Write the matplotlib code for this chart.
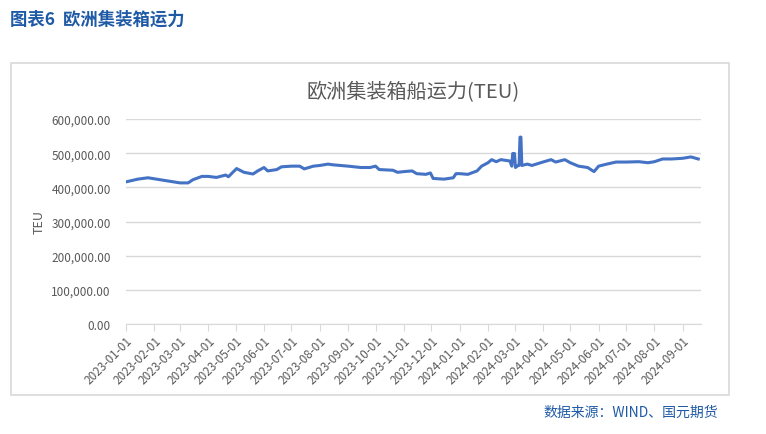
import matplotlib
matplotlib.use("Agg")
import matplotlib.pyplot as plt
import matplotlib.dates as mdates
from matplotlib.patches import Rectangle
from matplotlib.ticker import FuncFormatter
import pandas as pd

plt.rcParams['font.family'] = ['Noto Sans CJK SC', 'DejaVu Sans']

# values (TEU)
dates = [
    "2023-01-01", "2023-01-14", "2023-01-25", "2023-02-01", "2023-02-15",
    "2023-03-01", "2023-03-10", "2023-03-15", "2023-03-25", "2023-04-01",
    "2023-04-10", "2023-04-20", "2023-04-23", "2023-05-02", "2023-05-10",
    "2023-05-20", "2023-05-25", "2023-06-01", "2023-06-05", "2023-06-15",
    "2023-06-20", "2023-07-01", "2023-07-10", "2023-07-15", "2023-07-25",
    "2023-08-01", "2023-08-10", "2023-08-15", "2023-09-01", "2023-09-15",
    "2023-09-25", "2023-10-01", "2023-10-05", "2023-10-20", "2023-10-25",
    "2023-11-01", "2023-11-10", "2023-11-15", "2023-11-25", "2023-11-30",
    "2023-12-03", "2023-12-15", "2023-12-25", "2023-12-28", "2024-01-01",
    "2024-01-10", "2024-01-20", "2024-01-25", "2024-02-01", "2024-02-05",
    "2024-02-10", "2024-02-15", "2024-02-25", "2024-02-27", "2024-02-28",
    "2024-03-01", "2024-03-02", "2024-03-05", "2024-03-06", "2024-03-07",
    "2024-03-08", "2024-03-09", "2024-03-15", "2024-03-20", "2024-04-01",
    "2024-04-10", "2024-04-15", "2024-04-25", "2024-05-01", "2024-05-10",
    "2024-05-20", "2024-05-27", "2024-06-01", "2024-06-10", "2024-06-20",
    "2024-07-01", "2024-07-15", "2024-07-25", "2024-08-01", "2024-08-10",
    "2024-08-20", "2024-09-01", "2024-09-10", "2024-09-18",
]
capacity = [
    416000, 424000, 428000, 425000, 419000,
    413000, 413000, 422000, 432000, 432000,
    429000, 436000, 431000, 455000, 444000,
    439000, 448000, 458000, 448000, 452000,
    460000, 462000, 462000, 454000, 462000,
    464000, 468000, 466000, 462000, 458000,
    458000, 462000, 452000, 450000, 444000,
    446000, 448000, 440000, 438000, 442000,
    426000, 424000, 428000, 440000, 440000,
    438000, 448000, 462000, 472000, 481000,
    475000, 481000, 477000, 462000, 499000,
    499000, 458000, 464000, 464000, 547000,
    547000, 464000, 468000, 464000, 474000,
    481000, 474000, 481000, 472000, 462000,
    458000, 446000, 462000, 468000, 474000,
    474000, 475000, 472000, 475000, 483000,
    483000, 485000, 489000, 483000,
]
month_ticks = pd.date_range("2023-01-01", "2024-09-01", freq="MS")

x = pd.to_datetime(dates)

fig = plt.figure(figsize=(7.66, 4.35), dpi=100)

# outer frame of the chart
fig.patches.append(Rectangle((11 / 766, 1 - 396 / 435), 718 / 766, 332 / 435,
                             transform=fig.transFigure, fill=False,
                             edgecolor="#d9d9d9", linewidth=1.2))

fig.text(10 / 766, 1 - 20 / 435, "图表6  欧洲集装箱运力", color="#1f5aa6",
         fontsize=12.5, fontweight="bold", va="center", ha="left")
fig.text(718 / 766, 1 - 413 / 435, "数据来源：WIND、国元期货", color="#1f5aa6",
         fontsize=10, va="center", ha="right")

ax = fig.add_axes([126 / 766, 1 - 325 / 435, 575 / 766, 205 / 435])
ax.plot(x, capacity, color="#4472c4", linewidth=2.2, solid_joinstyle="round")

ax.set_ylim(0, 600000)
ax.set_yticks(range(0, 600001, 100000))
ax.yaxis.set_major_formatter(FuncFormatter(lambda v, p: f"{v:,.2f}"))
ax.set_xlim(pd.Timestamp("2023-01-01"), pd.Timestamp("2024-09-21"))
ax.set_xticks(month_ticks)
ax.xaxis.set_major_formatter(mdates.DateFormatter("%Y-%m-%d"))
for lbl in ax.get_xticklabels():
    lbl.set_rotation(45)
    lbl.set_ha("right")
    lbl.set_rotation_mode("anchor")

ax.grid(axis="y", color="#d9d9d9", linewidth=1)
ax.set_axisbelow(True)
for side in ["top", "right", "left"]:
    ax.spines[side].set_visible(False)
ax.spines["bottom"].set_color("#d9d9d9")
ax.tick_params(axis="y", length=0, labelsize=8.5, labelcolor="#595959", pad=11)
ax.tick_params(axis="x", length=5, color="#d9d9d9", labelsize=8.5,
               labelcolor="#595959", pad=2)

ax.set_ylabel("TEU", color="#595959", fontsize=9, labelpad=4)
ax.set_title("欧洲集装箱船运力(TEU)", color="#595959", fontsize=14.5, pad=16)

fig.savefig("out.png", dpi=100)
